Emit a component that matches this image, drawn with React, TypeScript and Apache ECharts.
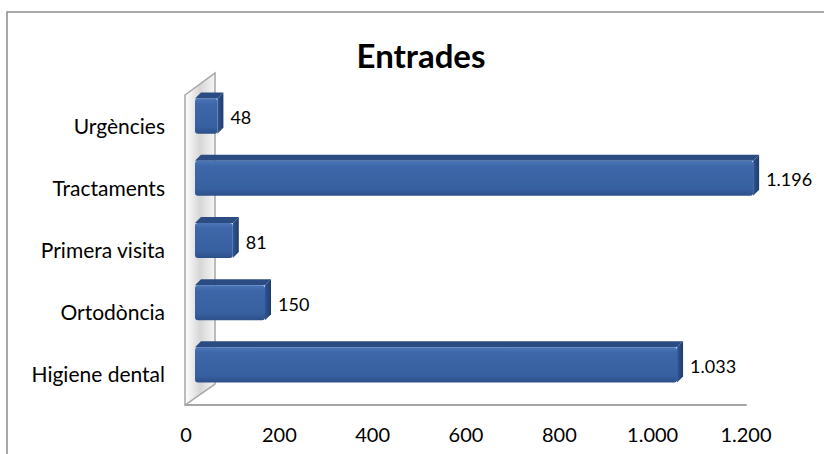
import React, { useEffect, useRef } from "react";
import * as echarts from "echarts";

const categories = ["Higiene dental", "Ortodòncia", "Primera visita", "Tractaments", "Urgències"];
const values = [1033, 150, 81, 1196, 48];
const xTicks = [0, 200, 400, 600, 800, 1000, 1200];
const title = "Entrades";

const FONT = "Lato, 'Noto Sans', sans-serif";
const fmt = (v: number) => String(v).replace(/\B(?=(\d{3})+(?!\d))/g, ".");

const GRID = { left: 186, right: 78, top: 82, bottom: 61 };

export default function App() {
  const ref = useRef<HTMLDivElement>(null);
  useEffect(() => {
    if (!ref.current) return;
    const chart = echarts.init(ref.current, null, { renderer: "svg" });
    const floorY = 454 - GRID.bottom + 12;
    const wallL = GRID.left - 1;
    const wallR = GRID.left + 29;
    chart.setOption({
      animation: false,
      backgroundColor: "#ffffff",
      title: {
        text: title,
        left: 416,
        textAlign: "center",
        top: 33,
        textStyle: { fontFamily: FONT, fontSize: 33, fontWeight: "bold", color: "#000" },
      },
      graphic: [
        {
          type: "rect",
          shape: { x: 7, y: 12, width: 840, height: 470 },
          style: { fill: "none", stroke: "#8c8c8c", lineWidth: 1.5 },
          z: 0,
        },
        {
          type: "polygon",
          shape: {
            points: [
              [wallL, GRID.top + 13],
              [wallR, GRID.top - 9],
              [wallR, floorY - 21],
              [wallL, floorY],
            ],
          },
          style: {
            fill: new echarts.graphic.LinearGradient(0, 0, 1, 0, [
              { offset: 0, color: "#ffffff" },
              { offset: 0.5, color: "#d6d6d6" },
              { offset: 1, color: "#f6f6f6" },
            ]),
            stroke: "#a6a6a6",
            lineWidth: 1.5,
          },
          z: 0,
        },
      ],
      grid: GRID,
      xAxis: {
        type: "value",
        min: 0,
        max: 1200,
        interval: 200,
        offset: 12,
        splitLine: { show: false },
        axisTick: { show: false },
        axisLine: { show: true, lineStyle: { color: "#a6a6a6", width: 2 } },
        axisLabel: {
          fontFamily: FONT,
          fontSize: 20,
          color: "#000",
          margin: 19,
          formatter: (v: number) => (xTicks.includes(v) ? fmt(v) : ""),
        },
      },
      yAxis: {
        type: "category",
        data: categories,
        axisLine: { show: false },
        axisTick: { show: false },
        axisLabel: {
          fontFamily: FONT,
          fontSize: 21,
          color: "#000",
          margin: 21,
          verticalAlign: "top",
          lineHeight: 24,
        },
      },
      series: [
        {
          type: "custom",
          data: values.map((v, i) => [v, i]),
          encode: { x: 0, y: 1 },
          z: 5,
          renderItem: (params: any, api: any) => {
            const v = api.value(0);
            const ci = api.value(1);
            const p0 = api.coord([0, ci]);
            const p1 = api.coord([v, ci]);
            const band = api.size([0, 1])[1];
            const h = band * 0.66;
            const d = 6;
            const xs = p0[0] + 9;
            const xe = p1[0] + 9;
            const top = p0[1] - h / 2;
            const bot = p0[1] + h / 2;
            return {
              type: "group",
              children: [
                {
                  type: "polygon",
                  shape: { points: [[xs, top + d], [xs + d, top], [xe + d, top], [xe, top + d]] },
                  style: { fill: "#2b4c82" },
                },
                {
                  type: "polygon",
                  shape: { points: [[xe, top + d], [xe + d, top], [xe + d, bot - d], [xe, bot]] },
                  style: {
                    fill: new echarts.graphic.LinearGradient(0, 0, 1, 0, [
                      { offset: 0, color: "#2f5592" },
                      { offset: 1, color: "#1f3d6e" },
                    ]),
                  },
                },
                {
                  type: "rect",
                  shape: { x: xs, y: top + d, width: Math.max(xe - xs, 1), height: h - d, r: 3 },
                  style: {
                    fill: new echarts.graphic.LinearGradient(0, 0, 0, 1, [
                      { offset: 0, color: "#4a77b8" },
                      { offset: 0.15, color: "#3d67a8" },
                      { offset: 0.8, color: "#3760a0" },
                      { offset: 1, color: "#2c5089" },
                    ]),
                  },
                },
                {
                  type: "text",
                  style: {
                    text: fmt(v),
                    x: xe + d + 7,
                    y: p0[1] + 4,
                    align: "left",
                    verticalAlign: "middle",
                    font: `18px ${FONT}`,
                    fill: "#000",
                  },
                },
              ],
            };
          },
        },
      ],
    });
    return () => chart.dispose();
  }, []);
  return (
    <div
      ref={ref}
      style={{ position: "fixed", left: 0, top: 0, width: 824, height: 454 }}
    />
  );
}
